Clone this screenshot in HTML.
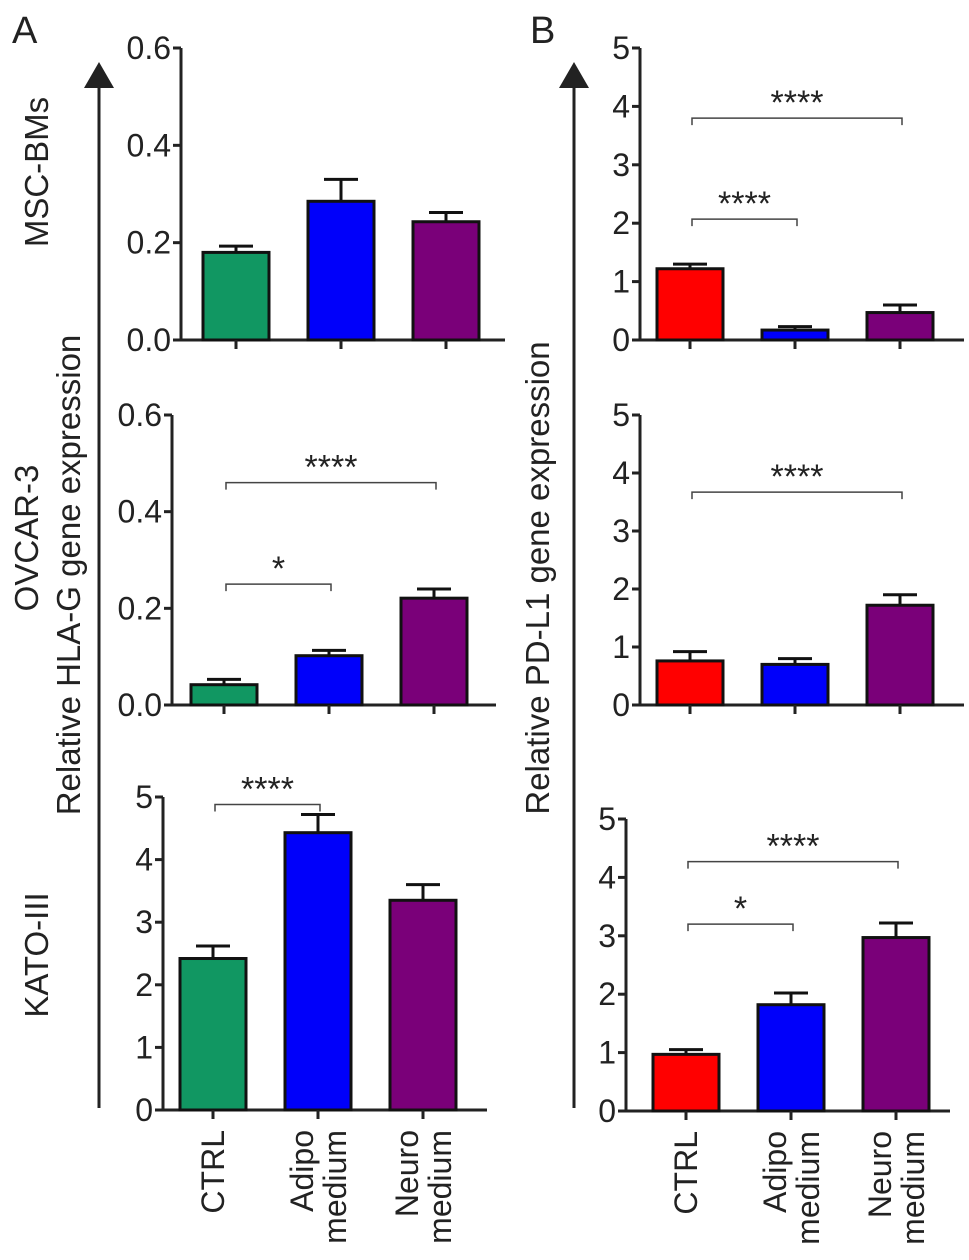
<!DOCTYPE html>
<html><head><meta charset="utf-8"><style>
body{margin:0;background:#fff}
svg text{font-family:"Liberation Sans",Arial,sans-serif;fill:#222}
</style></head><body>
<svg id="fig" width="969" height="1255" xmlns="http://www.w3.org/2000/svg">
<text x="12" y="43" font-size="38">A</text>
<text x="530" y="43" font-size="38">B</text>
<line x1="99" y1="82" x2="99" y2="1108" stroke="#222" stroke-width="3"/>
<polygon points="84,88 114,88 99,62" fill="#222"/>
<line x1="574" y1="82" x2="574" y2="1108" stroke="#222" stroke-width="3"/>
<polygon points="559,88 589,88 574,62" fill="#222"/>
<text transform="translate(48,172) rotate(-90)" text-anchor="middle" font-size="33">MSC-BMs</text>
<text transform="translate(38,538) rotate(-90)" text-anchor="middle" font-size="33">OVCAR-3</text>
<text transform="translate(48,955) rotate(-90)" text-anchor="middle" font-size="33">KATO-III</text>
<text transform="translate(80,575) rotate(-90)" text-anchor="middle" font-size="33">Relative HLA-G gene expression</text>
<text transform="translate(549,578) rotate(-90)" text-anchor="middle" font-size="33">Relative PD-L1 gene expression</text>
<g id="plots"></g>
</svg>
<script>
const categories = ["CTRL", "Adipo medium", "Neuro medium"];
const a1Values = [0.18, 0.285, 0.243];
const a1Errors = [0.193, 0.33, 0.262];
const a2Values = [0.042, 0.102, 0.221];
const a2Errors = [0.053, 0.113, 0.24];
const a3Values = [2.42, 4.43, 3.35];
const a3Errors = [2.62, 4.72, 3.6];
const b1Values = [1.22, 0.17, 0.47];
const b1Errors = [1.3, 0.23, 0.6];
const b2Values = [0.76, 0.7, 1.72];
const b2Errors = [0.92, 0.8, 1.9];
const b3Values = [0.97, 1.82, 2.97];
const b3Errors = [1.05, 2.02, 3.22];
const ticksA12 = ["0.0", "0.2", "0.4", "0.6"];
const ticksInt = ["0", "1", "2", "3", "4", "5"];
const a2Sig = [[0, 1, 0.25, "*"], [0, 2, 0.46, "****"]];
const a3Sig = [[0, 1, 4.88, "****"]];
const b1Sig = [[0, 1, 2.07, "****"], [0, 2, 3.8, "****"]];
const b2Sig = [[0, 2, 3.67, "****"]];
const b3Sig = [[0, 1, 3.2, "*"], [0, 2, 4.27, "****"]];

const NS = "http://www.w3.org/2000/svg";
const root = document.getElementById("plots");
function mk(tag, attrs, parent, txt) {
  const e = document.createElementNS(NS, tag);
  for (const k in attrs) e.setAttribute(k, attrs[k]);
  if (txt !== undefined) e.textContent = txt;
  parent.appendChild(e);
  return e;
}
function panel(name, ax, y0, yTop, max, ticks, vals, errs, colors, off, sig, xlabels) {
  const g = mk("g", {}, root);
  
  
  const y = v => y0 - (v / max) * (y0 - yTop);
  const cx = i => ax + off + i * 105;
  const yl = mk("line", {x1: ax, y1: yTop, x2: ax, y2: y0, stroke: "#222", "stroke-width": 3}, g);
  
  
  const xl = mk("line", {x1: ax - 8, y1: y0, x2: ax + 324, y2: y0, stroke: "#222", "stroke-width": 3}, g);
  
  
  ticks.forEach((t, i) => {
    const v = parseFloat(t);
    mk("line", {x1: ax - 8, y1: y(v), x2: ax, y2: y(v), stroke: "#222", "stroke-width": 3}, g);
    const tl = mk("text", {x: ax - 10, y: y(v) + 11, "text-anchor": "end", "font-size": 32}, g, t);
    
    
  });
  vals.forEach((v, i) => {
    const c = cx(i);
    const e = mk("line", {x1: c, y1: y(errs[i]), x2: c, y2: y(v), stroke: "#111", "stroke-width": 3}, g);
    
    
    mk("line", {x1: c - 17, y1: y(errs[i]), x2: c + 17, y2: y(errs[i]), stroke: "#111", "stroke-width": 3}, g);
    const b = mk("rect", {x: c - 33, y: y(v), width: 66, height: y0 - y(v), fill: colors[i], stroke: "#111", "stroke-width": 3}, g);
    
    
    mk("line", {x1: c, y1: y0, x2: c, y2: y0 + 9, stroke: "#222", "stroke-width": 3}, g);
  });
  sig.forEach(s => {
    const x1 = cx(s[0]) + 2, x2 = cx(s[1]) + 2, yy = y(s[2]);
    const p = mk("path", {d: `M${x1},${yy+7} V${yy} H${x2} V${yy+7}`, fill: "none", stroke: "#444", "stroke-width": 1.5}, g);
    
    
    const st = mk("text", {x: (x1 + x2) / 2, y: yy - 4, "text-anchor": "middle", "font-size": 34}, g, s[3]);
    
    
  });
  if (xlabels) {
    categories.forEach((cat, i) => {
      const parts = cat.split(' ');
      const c = cx(i);
      parts.forEach((p, j) => {
        const dx = parts.length === 1 ? 11 : (j === 0 ? -5 : 28);
        const t = mk("text", {transform: `translate(${c + dx},${y0 + 20}) rotate(-90)`, "text-anchor": "end", "font-size": 32}, g, p);
        
        
      });
    });
  }
}
const gA = ["#119762", "#0000fa", "#7a0079"];
const gB = ["#ff0000", "#0000fa", "#7a0079"];
panel("chart-msc-bms-hla-g", 181, 340, 48, 0.6, ticksA12, a1Values, a1Errors, gA, 55, [], false);
panel("chart-ovcar3-hla-g", 172, 705, 415, 0.6, ticksA12, a2Values, a2Errors, gA, 52, a2Sig, false);
panel("chart-kato3-hla-g", 163, 1110, 797, 5, ticksInt, a3Values, a3Errors, gA, 50, a3Sig, true);
panel("chart-msc-bms-pd-l1", 640, 340, 48, 5, ticksInt, b1Values, b1Errors, gB, 50, b1Sig, false);
panel("chart-ovcar3-pd-l1", 640, 705, 415, 5, ticksInt, b2Values, b2Errors, gB, 50, b2Sig, false);
panel("chart-kato3-pd-l1", 626, 1111, 819, 5, ticksInt, b3Values, b3Errors, gB, 60, b3Sig, true);
</script>
</body></html>
